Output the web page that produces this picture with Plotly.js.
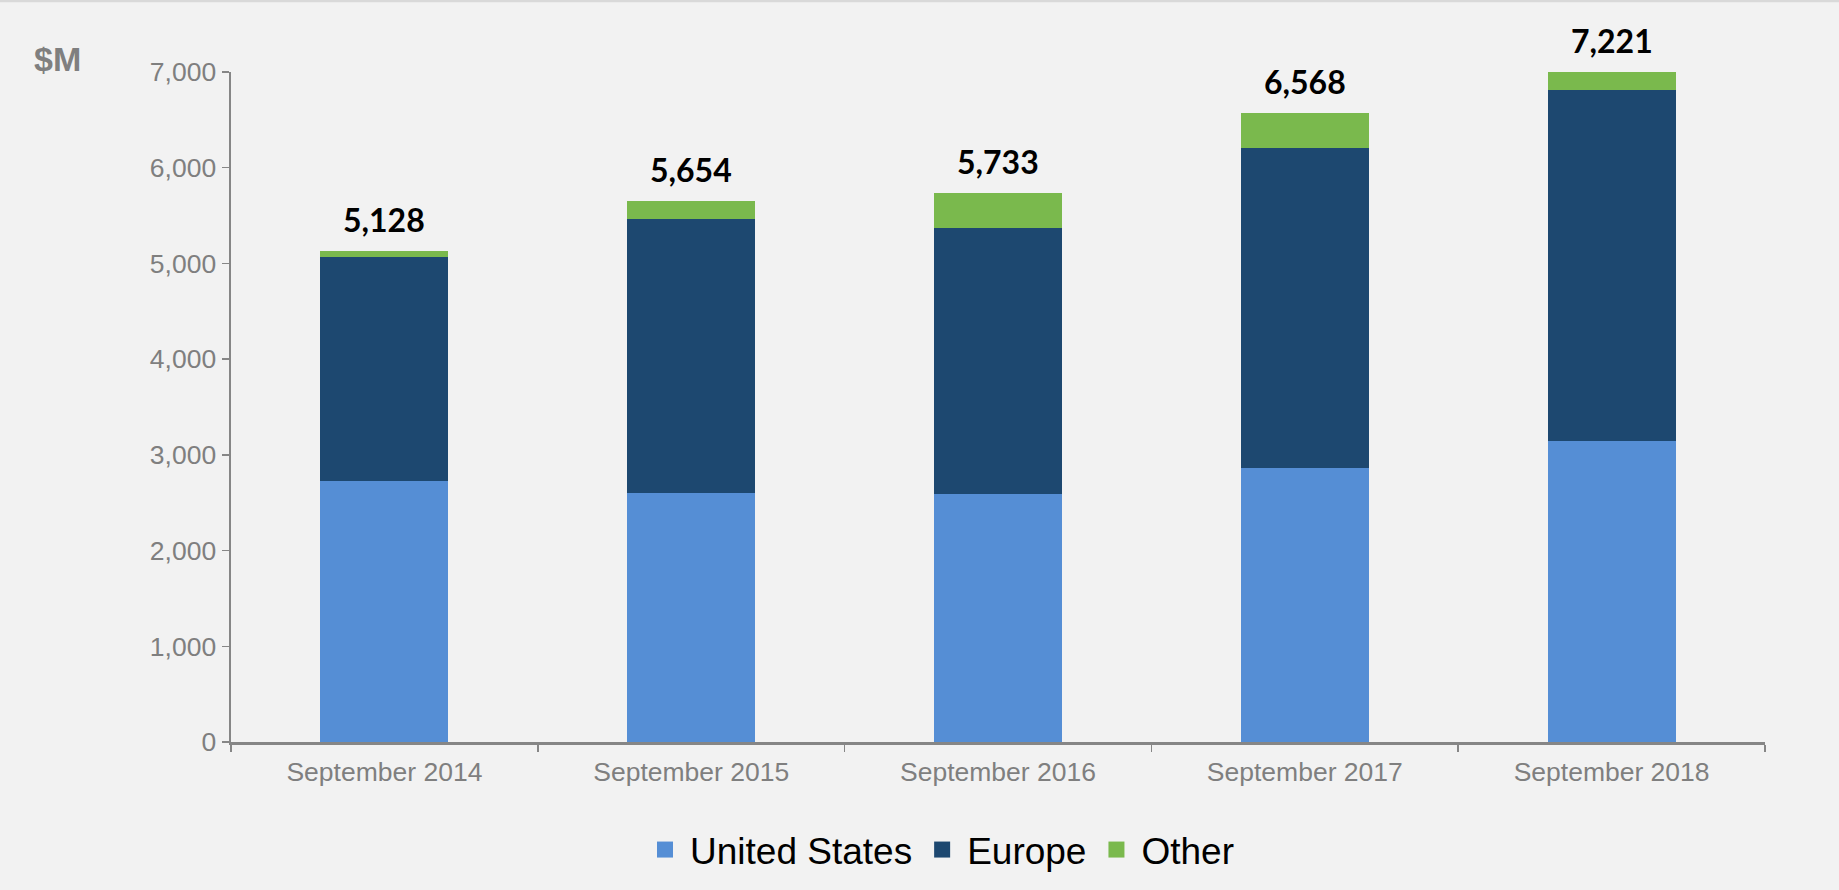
<!DOCTYPE html>
<html>
<head>
<meta charset="utf-8">
<script src="https://cdn.plot.ly/plotly-3.0.1.min.js"></script>
<style>
  html, body { margin: 0; padding: 0; background: #f2f2f2; }
  #chart { width: 1839px; height: 890px; }
</style>
</head>
<body>
<div id="chart"></div>
<script>
// ---- data ----
const categories = ['September 2014', 'September 2015', 'September 2016', 'September 2017', 'September 2018'];
const usValues = [2728, 2602, 2592, 2863, 3146];
const europeValues = [2338, 2860, 2775, 3340, 3664];
const otherValues = [62, 192, 366, 365, 411];
const totalValues = [5128, 5654, 5733, 6568, 7221];
const seriesNames = ['United States', 'Europe', 'Other'];
const yTickValues = [0, 1000, 2000, 3000, 4000, 5000, 6000, 7000];
const yMax = 7000;

// ---- style ----
const colors = ['#558ED5', '#1D4870', '#7AB94D'];
const axisGray = '#868686';
const textGray = '#7F7F7F';
const seriesValues = [usValues, europeValues, otherValues];

const W = 1839, H = 890;
const margin = { l: 231, r: 74, t: 72, b: 148, pad: 0 };

const traces = seriesValues.map((vals, i) => ({
  type: 'bar',
  x: categories,
  y: vals,
  name: seriesNames[i],
  marker: { color: colors[i], line: { width: 0 } },
  showlegend: false,
  hoverinfo: 'y+name'
}));

// legend-only entries (larger square swatches)
seriesNames.forEach((n, i) => {
  traces.push({
    type: 'scatter',
    mode: 'markers',
    x: [null],
    y: [null],
    name: n,
    marker: { symbol: 'square', size: 19, color: colors[i] },
    showlegend: true,
    hoverinfo: 'skip'
  });
});

const annotations = categories.map((c, i) => ({
  x: c,
  y: Math.min(totalValues[i], yMax),
  xref: 'x',
  yref: 'y',
  text: totalValues[i].toLocaleString('en-US'),
  showarrow: false,
  yanchor: 'bottom',
  yshift: 10,
  font: { family: 'Lato, "Open Sans", sans-serif', size: 32, color: '#000000', weight: 'bold' }
}));

const plotH = H - margin.t - margin.b;
const plotW = W - margin.l - margin.r;
const pxToPaperX = px => (px - margin.l) / plotW;
const pxToPaperY = py => (H - margin.b - py) / plotH;

annotations.push({
  x: pxToPaperX(57),
  y: pxToPaperY(59),
  xref: 'paper',
  yref: 'paper',
  text: '<b>$M</b>',
  showarrow: false,
  xanchor: 'center',
  yanchor: 'middle',
  font: { family: '"Liberation Sans", Arial, sans-serif', size: 34, color: textGray }
});

const layout = {
  width: W,
  height: H,
  margin: margin,
  paper_bgcolor: '#f2f2f2',
  plot_bgcolor: '#f2f2f2',
  barmode: 'stack',
  bargap: 0.583,
  font: { family: '"Liberation Sans", Arial, sans-serif', color: textGray },
  xaxis: {
    type: 'category',
    showline: true,
    linecolor: axisGray,
    linewidth: 2.5,
    ticks: 'outside',
    tickson: 'boundaries',
    ticklen: 7,
    tickwidth: 1.5,
    tickcolor: axisGray,
    ticklabelstandoff: 5,
    showgrid: false,
    zeroline: false,
    tickfont: { size: 26.5, color: textGray },
    fixedrange: true
  },
  yaxis: {
    range: [0, yMax],
    tickvals: yTickValues,
    ticktext: yTickValues.map(v => v.toLocaleString('en-US')),
    ticksuffix: '\u00a0',
    showline: true,
    linecolor: axisGray,
    linewidth: 2.5,
    ticks: 'outside',
    ticklen: 7,
    tickwidth: 1.5,
    tickcolor: axisGray,
    showgrid: false,
    zeroline: false,
    tickfont: { size: 26.5, color: textGray },
    fixedrange: true
  },
  legend: {
    orientation: 'h',
    traceorder: 'normal',
    xref: 'container',
    yref: 'container',
    x: 939.5 / W,
    xanchor: 'center',
    y: 1 - 850 / H,
    yanchor: 'middle',
    itemwidth: 40,
    font: { size: 37, color: '#000000' },
    bgcolor: 'rgba(0,0,0,0)',
    itemclick: false,
    itemdoubleclick: false
  },
  annotations: annotations,
  shapes: [
    {
      type: 'line', xref: 'paper', yref: 'paper', layer: 'above',
      x0: pxToPaperX(0), x1: pxToPaperX(W), y0: pxToPaperY(1), y1: pxToPaperY(1),
      line: { color: '#d9d9d9', width: 2.5 }
    }
  ],
  showlegend: true
};

Plotly.newPlot('chart', traces, layout, { displayModeBar: false, staticPlot: true });
</script>
</body>
</html>
